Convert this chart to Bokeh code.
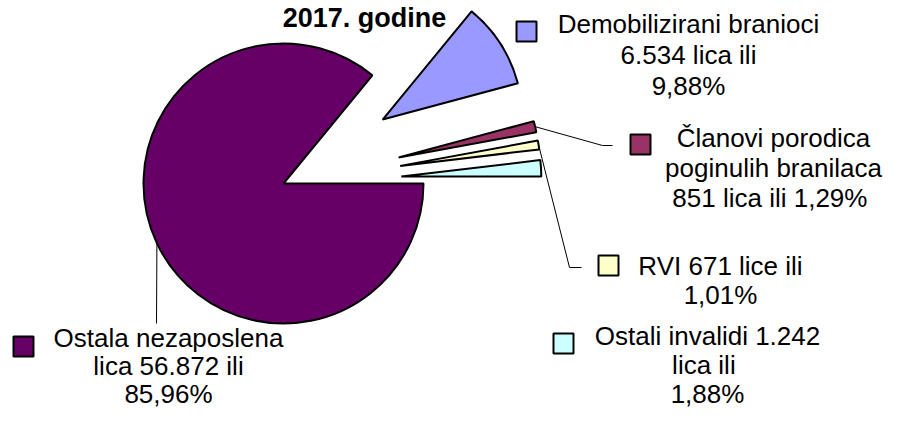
import math
from bokeh.plotting import figure
from bokeh.models import Range1d
from bokeh.core.properties import value
from bokeh.embed import file_html
from bokeh.resources import INLINE

# ---------------- data ----------------
title_text = "2017. godine"
categories = ["Ostali invalidi", "RVI", "Članovi porodica poginulih branilaca",
              "Demobilizirani branioci", "Ostala nezaposlena lica"]
counts = [1242, 671, 851, 6534, 56872]
percents = ["1,88%", "1,01%", "1,29%", "9,88%", "85,96%"]
label_lines = [
    ["Ostali invalidi 1.242", "lica  ili", "1,88%"],
    ["RVI 671 lice ili", "1,01%"],
    ["Članovi porodica", "poginulih branilaca", "851 lica  ili 1,29%"],
    ["Demobilizirani branioci", "6.534 lica ili", "9,88%"],
    ["Ostala nezaposlena", "lica 56.872 ili", "85,96%"],
]
colors = ["#CCFFFF", "#FFFFCC", "#993366", "#9999FF", "#660066"]

# ---------------- layout (pixel coordinates, y downward) ----------------
PAGE_H = 428
def Y(py):
    return PAGE_H - py

CX, CY, R = 283, 183, 140
explode = [118, 118, 118, 118, 0]
FONT = value("Liberation Sans")
FS_PX = 26
TEXT_SHIFT = 0.35  # compensates the renderer's baseline offset (fraction of font size)
# square centre, text centre x, first baseline, line height
label_layout = [
    dict(sq=(563, 343), tx=707, by=345, lh=29),
    dict(sq=(608, 265), tx=720, by=275, lh=29),
    dict(sq=(640, 144), tx=773, by=147, lh=30),
    dict(sq=(526, 31), tx=688, by=33, lh=31),
    dict(sq=(23, 346), tx=168, by=347, lh=28),
]
# leader elbows (after slice anchor)
leaders = {
    1: [(569, 267), (581, 267)],
    2: [(602, 145), (612, 145)],
    4: [(156, 323)],
}

W, H = 884, 412
p = figure(width=W, height=H, x_range=Range1d(0, W), y_range=Range1d(PAGE_H - H, PAGE_H),
           output_backend="svg", toolbar_location=None, min_border=0,
           x_axis_location=None, y_axis_location=None)
p.grid.visible = False
p.outline_line_color = None
p.background_fill_color = "white"

total = sum(counts)
angles = []
acc = 0.0
for c in counts:
    a0 = acc / total * 2 * math.pi
    acc += c
    a1 = acc / total * 2 * math.pi
    angles.append((a0, a1))

# leaders
for i, elbows in leaders.items():
    a0, a1 = angles[i]
    mid = (a0 + a1) / 2
    wx = CX + explode[i] * math.cos(mid)
    wy = Y(CY) + explode[i] * math.sin(mid)
    sx = wx + R * math.cos(mid)
    sy = wy + R * math.sin(mid)
    xs = [sx] + [e[0] for e in elbows]
    ys = [sy] + [Y(e[1]) for e in elbows]
    p.line(xs, ys, line_color="black", line_width=1)

# wedges
wx_list, wy_list, s_list, e_list = [], [], [], []
for i, (a0, a1) in enumerate(angles):
    mid = (a0 + a1) / 2
    wx_list.append(CX + explode[i] * math.cos(mid))
    wy_list.append(Y(CY) + explode[i] * math.sin(mid))
    s_list.append(a0)
    e_list.append(a1)
p.wedge(x=wx_list, y=wy_list, radius=R, start_angle=s_list, end_angle=e_list,
        fill_color=colors, line_color="black", line_width=2)

# legend squares
p.rect(x=[l["sq"][0] for l in label_layout], y=[Y(l["sq"][1]) for l in label_layout],
       width=20, height=20, fill_color=colors, line_color="black", line_width=2)

# label texts
tx, ty, tt = [], [], []
for i, lines in enumerate(label_lines):
    lay = label_layout[i]
    for k, line in enumerate(lines):
        tx.append(lay["tx"])
        ty.append(Y(lay["by"] + k * lay["lh"] - TEXT_SHIFT * FS_PX))
        tt.append(line)
p.text(x=tx, y=ty, text=tt, text_font=FONT, text_font_size=f"{FS_PX}px",
       text_align="center", text_baseline="alphabetic", text_color="black")

# title
TITLE_PX = 27
p.text(x=[364], y=[Y(27 - TEXT_SHIFT * TITLE_PX)], text=[title_text], text_font=FONT,
       text_font_size=f"{TITLE_PX}px", text_font_style="bold", text_align="center",
       text_baseline="alphabetic", text_color="black")

open("out.html", "w").write(file_html(p, INLINE))
